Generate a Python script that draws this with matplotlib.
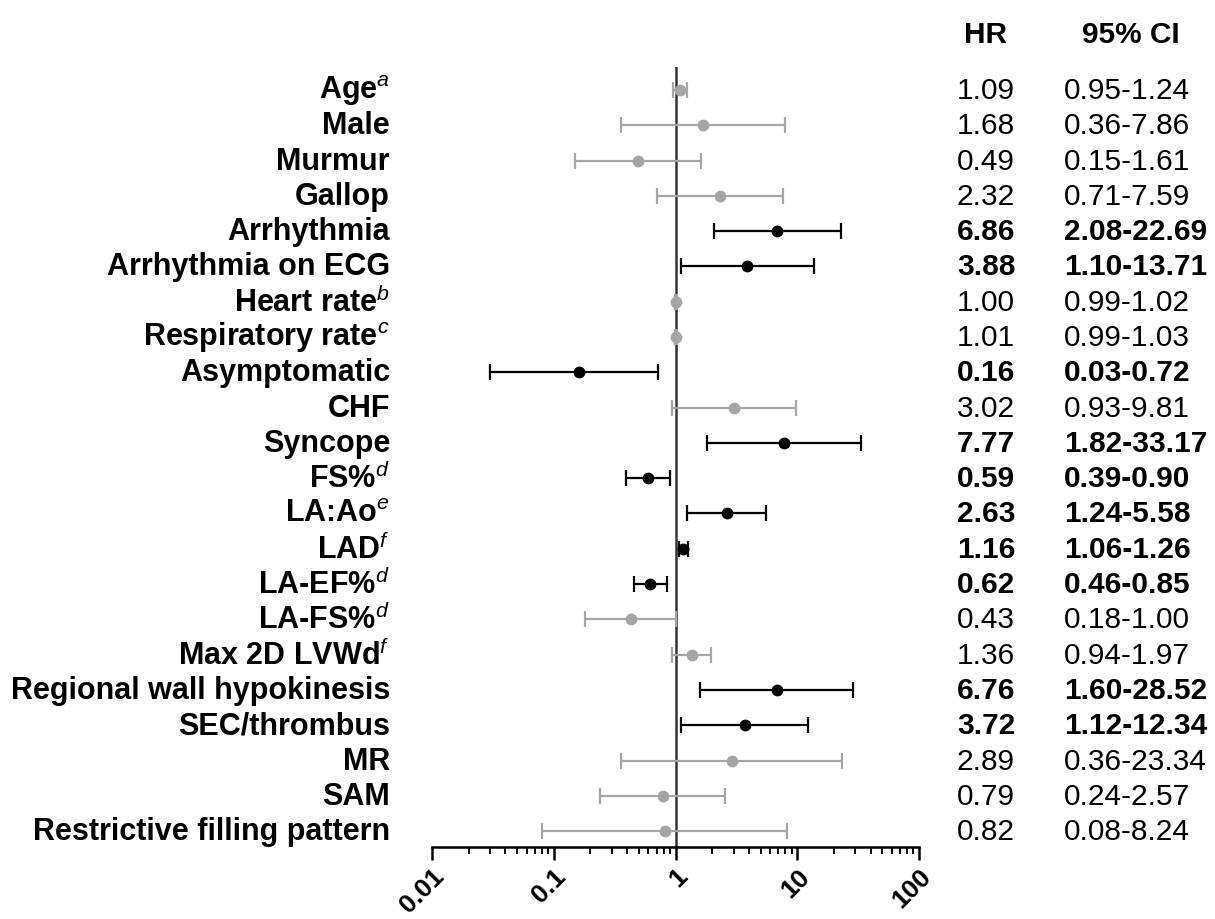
import numpy as np
import matplotlib
matplotlib.use("Agg")
import matplotlib.pyplot as plt
from matplotlib import transforms
from matplotlib.ticker import LogLocator, NullFormatter

LABELS = ["Age$^{a}$", "Male", "Murmur", "Gallop", "Arrhythmia", "Arrhythmia on ECG",
          "Heart rate$^{b}$", "Respiratory rate$^{c}$", "Asymptomatic", "CHF", "Syncope",
          "FS%$^{d}$", "LA:Ao$^{e}$", "LAD$^{f}$", "LA-EF%$^{d}$", "LA-FS%$^{d}$",
          "Max 2D LVWd$^{f}$", "Regional wall hypokinesis", "SEC/thrombus", "MR", "SAM",
          "Restrictive filling pattern"]
HR = [1.09, 1.68, 0.49, 2.32, 6.86, 3.88, 1.00, 1.01, 0.16, 3.02, 7.77,
      0.59, 2.63, 1.16, 0.62, 0.43, 1.36, 6.76, 3.72, 2.89, 0.79, 0.82]
LO = [0.95, 0.36, 0.15, 0.71, 2.08, 1.10, 0.99, 0.99, 0.03, 0.93, 1.82,
      0.39, 1.24, 1.06, 0.46, 0.18, 0.94, 1.60, 1.12, 0.36, 0.24, 0.08]
HI = [1.24, 7.86, 1.61, 7.59, 22.69, 13.71, 1.02, 1.03, 0.72, 9.81, 33.17,
      0.90, 5.58, 1.26, 0.85, 1.00, 1.97, 28.52, 12.34, 23.34, 2.57, 8.24]
SIG = [False, False, False, False, True, True, False, False, True, False, True,
       True, True, True, True, False, False, True, True, False, False, False]
XTICKS = [0.01, 0.1, 1, 10, 100]
XTICKLABELS = ["0.01", "0.1", "1", "10", "100"]

plt.rcParams.update({"font.family": "Liberation Sans", "font.size": 20,
                     "mathtext.fontset": "custom", "mathtext.rm": "Liberation Sans",
                     "mathtext.it": "Liberation Sans:italic",
                     "mathtext.bf": "Liberation Sans:bold"})

fig = plt.figure(figsize=(12.15, 9.2), dpi=100)
ax = fig.add_axes([432/1215, 72/920, (919-432)/1215, (848-68)/920])
n = len(LABELS)
y = np.arange(n)

for i in range(n):
    c = "black" if SIG[i] else "#a5a5a5"
    ax.errorbar(HR[i], y[i], xerr=[[HR[i]-LO[i]], [HI[i]-HR[i]]], fmt="o", color=c,
                ms=7.5, capsize=6, elinewidth=1.6, capthick=1.6, zorder=3)

ax.axvline(1, color="#333333", lw=1.8, zorder=2)
ax.set_xscale("log")
ax.set_xlim(0.01, 100)
ax.set_ylim(n - 0.55, -0.65)
ax.set_yticks([])
for s in ["top", "right", "left"]:
    ax.spines[s].set_visible(False)
ax.spines["bottom"].set_linewidth(1.8)
ax.xaxis.set_minor_locator(LogLocator(base=10, subs=np.arange(2, 10), numticks=10))
ax.xaxis.set_minor_formatter(NullFormatter())
ax.set_xticks(XTICKS)
ax.set_xticklabels(XTICKLABELS, rotation=45, fontweight="bold",
                   fontsize=19, ha="right", rotation_mode="anchor")
ax.tick_params(axis="x", which="major", length=9, width=1.8, pad=3)
ax.tick_params(axis="x", which="minor", length=5, width=1.4)

tr = transforms.blended_transform_factory(fig.transFigure, ax.transData)
for i in range(n):
    w = "bold" if SIG[i] else "normal"
    ax.text(390/1215, y[i], LABELS[i], transform=tr, ha="right", va="center",
            fontweight="bold", fontsize=22)
    ax.text(986/1215, y[i], f"{HR[i]:.2f}", transform=tr, ha="center", va="center",
            fontweight=w, fontsize=21.5)
    ax.text(1064/1215, y[i], f"{LO[i]:.2f}-{HI[i]:.2f}", transform=tr, ha="left",
            va="center", fontweight=w, fontsize=21.5)

fig.text(986/1215, 1 - 35/920, "HR", ha="center", va="center", fontweight="bold", fontsize=21.5)
fig.text(1131/1215, 1 - 35/920, "95% CI", ha="center", va="center", fontweight="bold", fontsize=21.5)

fig.savefig("out.png", dpi=100)
